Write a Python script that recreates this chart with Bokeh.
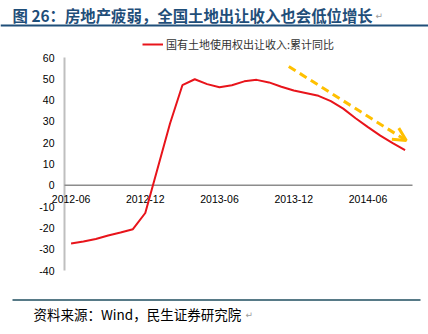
from bokeh.plotting import figure
from bokeh.models import (Range1d, Label, BoxAnnotation, Arrow, OpenHead,
                          Legend, LegendItem, ColumnDataSource)
from bokeh.core.properties import value
from bokeh.embed import file_html
from bokeh.resources import INLINE

# ---- data ----
months = ["2012-06", "2012-07", "2012-08", "2012-09", "2012-10", "2012-11", "2012-12",
          "2013-02", "2013-03", "2013-04", "2013-05", "2013-06", "2013-07", "2013-08",
          "2013-09", "2013-10", "2013-11", "2013-12",
          "2014-02", "2014-03", "2014-04", "2014-05", "2014-06", "2014-07", "2014-08", "2014-09"]
land_yoy = [-27.3, -26.4, -25.2, -23.6, -22.2, -20.6, -13.0,
            29.0, 47.0, 49.8, 47.5, 46.0, 47.0, 48.8,
            49.5, 48.3, 46.3, 44.5,
            42.0, 39.5, 36.0, 31.5, 27.3, 23.3, 19.8, 16.5]
x_tick_labels = ["2012-06", "2012-12", "2013-06", "2013-12", "2014-06"]
y_ticks = [-40, -30, -20, -10, 0, 10, 20, 30, 40, 50, 60]
series_name = "国有土地使用权出让收入:累计同比"
title_text = "图 26：房地产疲弱，全国土地出让收入也会低位增长"
source_text = "资料来源：Wind，民生证券研究院"
# trend arrow, in (months since 2012-06, value)
arrow_x = [17.6, 27.1]
arrow_y = [55.8, 21.0]


def month_index(s):
    y, m = s.split("-")
    return (int(y) - 2012) * 12 + int(m) - 6


xs = [month_index(m) for m in months]

W, H = 428, 334
# plot area in canvas pixels
PL, PR, PT, PB = 64, 412, 57, 270
X0, X1 = -0.53, 27.6
Y0, Y1 = -40, 60
kx = (PR - PL) / (X1 - X0)
ky = (PB - PT) / (Y1 - Y0)

p = figure(width=W, height=H, output_backend="svg", toolbar_location=None,
           x_range=Range1d(X0 - PL / kx, X1 + (W - PR) / kx),
           y_range=Range1d(Y0 - (H - PB) / ky, Y1 + PT / ky),
           min_border=0, x_axis_type=None, y_axis_type=None)
p.outline_line_color = None
p.grid.visible = False
p.background_fill_color = "white"
p.border_fill_color = "white"

# y axis line and labels
p.segment(x0=[X0], y0=[Y0], x1=[X0], y1=[Y1], line_color="#BFBFBF", line_width=2)
p.text(x=[X0] * len(y_ticks), y=y_ticks, text=[str(t) for t in y_ticks],
       text_align="right", text_baseline="middle", x_offset=-10,
       text_font=value("Liberation Sans"), text_font_size="10.5px", text_color="#000000")

# zero line acting as the x axis
p.segment(x0=[X0], y0=[0], x1=[X1], y1=[0], line_color="#8C8C8C", line_width=1.5)
p.text(x=[month_index(t) for t in x_tick_labels], y=[0] * len(x_tick_labels),
       text=x_tick_labels, text_align="center", text_baseline="middle",
       y_offset=14, text_font=value("Liberation Sans"), text_font_size="10.5px",
       text_color="#000000")

# the series
src = ColumnDataSource(dict(x=xs, y=land_yoy))
r = p.line("x", "y", source=src, line_color="#E8141B", line_width=2)

# trend arrow
p.add_layout(Arrow(x_start=arrow_x[0], y_start=arrow_y[0],
                   x_end=arrow_x[1], y_end=arrow_y[1],
                   line_color="#FFC000", line_width=3, line_dash="8 5",
                   end=OpenHead(size=13, line_color="#FFC000", line_width=3)))

# legend above the plot area
leg = Legend(items=[LegendItem(label=series_name, renderers=[r])],
             location=(142, H - 45 - 7), orientation="horizontal",
             border_line_color=None, background_fill_alpha=0,
             glyph_width=21, glyph_height=14, label_height=14, label_standoff=3,
             padding=0, margin=0, spacing=0,
             label_text_font="Noto Sans CJK SC", label_text_font_size="11px",
             label_text_color="#333333")
p.add_layout(leg, "center")

# title, rules and source (screen units, y up from bottom)
p.add_layout(Label(x=12, y=H - 14, x_units="screen", y_units="screen",
                   text=title_text, text_font="Noto Sans CJK SC", text_font_style="bold",
                   text_font_size="15.4px", text_color="#1F4E79", text_baseline="middle"))
p.add_layout(Label(x=375, y=H - 15, x_units="screen", y_units="screen",
                   text="↵", text_font="DejaVu Sans", text_font_size="9px",
                   text_color="#9A9A9A", text_baseline="middle"))
p.add_layout(BoxAnnotation(left=0, right=W, bottom=H - 26, top=H - 24,
                           left_units="screen", right_units="screen",
                           bottom_units="screen", top_units="screen",
                           fill_color="#1F4E79", fill_alpha=1, line_color=None))
p.add_layout(BoxAnnotation(left=12, right=420, bottom=H - 300.2, top=H - 298.8,
                           left_units="screen", right_units="screen",
                           bottom_units="screen", top_units="screen",
                           fill_color="#1F4E5F", fill_alpha=1, line_color=None))
p.add_layout(Label(x=33, y=H - 313, x_units="screen", y_units="screen",
                   text=source_text, text_font="Noto Sans CJK SC",
                   text_font_size="13.5px", text_color="#000000", text_baseline="middle"))
p.add_layout(Label(x=245, y=H - 314, x_units="screen", y_units="screen",
                   text="↵", text_font="DejaVu Sans", text_font_size="9px",
                   text_color="#9A9A9A", text_baseline="middle"))

open("out.html", "w").write(file_html(p, INLINE))
